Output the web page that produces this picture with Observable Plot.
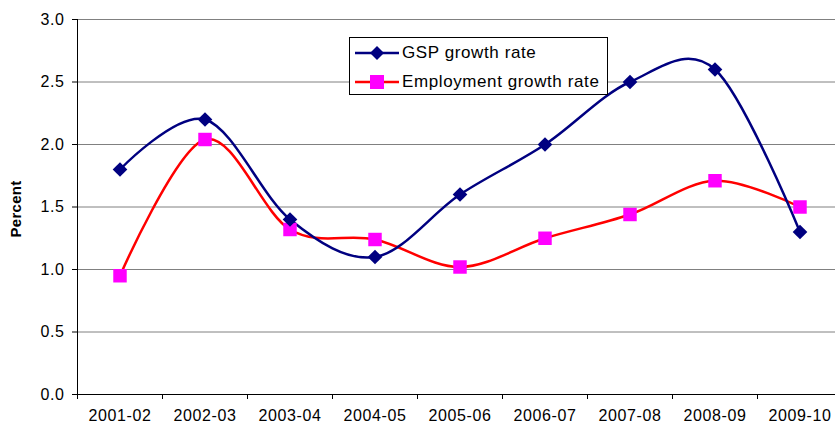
<!DOCTYPE html>
<html>
<head>
<meta charset="utf-8">
<script src="https://cdn.jsdelivr.net/npm/d3@7"></script>
<script src="https://cdn.jsdelivr.net/npm/@observablehq/plot@0.6"></script>
<style>
  html, body { margin: 0; padding: 0; background: #fff; }
  #wrap { position: relative; width: 835px; height: 427px; overflow: hidden; font-family: Arial, "Liberation Sans", sans-serif; }
  #chart { width: 842px; }
  #chart svg { max-width: none !important; display: block; }
  #legend { position: absolute; left: 349px; top: 37px; width: 257px; height: 56px; border: 1px solid #000; background: #fff; }
  .row { position: absolute; left: 0; height: 22px; display: flex; align-items: center; font-size: 17px; letter-spacing: 0.6px; color: #000; }
  .row svg { margin-left: 5px; margin-right: 3px; }
  #ylabel { position: absolute; left: 15px; top: 209px; transform: translate(-50%, -50%) rotate(-90deg); font-weight: bold; font-size: 15px; letter-spacing: 0.3px; white-space: nowrap; }
</style>
</head>
<body>
<div id="wrap">
  <div id="chart"></div>
  <div id="ylabel">Percent</div>
  <div id="legend"></div>
</div>
<script>
const categories = ["2001-02","2002-03","2003-04","2004-05","2005-06","2006-07","2007-08","2008-09","2009-10"];
const gspGrowth = [1.80, 2.20, 1.40, 1.10, 1.60, 2.00, 2.50, 2.60, 1.30];
const employmentGrowth = [0.95, 2.04, 1.32, 1.24, 1.02, 1.25, 1.44, 1.71, 1.50];
const yTicks = [0, 0.5, 1.0, 1.5, 2.0, 2.5, 3.0];
const seriesNames = ["GSP growth rate", "Employment growth rate"];
const navy = "#000080", red = "#FF0000", magenta = "#FF00FF";

const gsp = categories.map((c, i) => ({i, c, v: gspGrowth[i]}));
const emp = categories.map((c, i) => ({i, c, v: employmentGrowth[i]}));
const idx = categories.map((c, i) => i);
const bounds = d3.range(-0.5, categories.length, 1);
const curve = d3.curveCatmullRom.alpha(0);

const chart = Plot.plot({
  width: 842,
  height: 427,
  marginLeft: 77,
  marginRight: 0,
  marginTop: 19,
  marginBottom: 33,
  style: {fontFamily: "Arial, 'Liberation Sans', sans-serif", background: "#fff", letterSpacing: "0.6px", maxWidth: "none"},
  x: {type: "linear", domain: [-0.5, categories.length - 0.5]},
  y: {domain: [0, 3]},
  marks: [
    Plot.gridY({ticks: yTicks.filter(d => d > 0), stroke: "#808080", strokeOpacity: 1, strokeWidth: 1}),
    Plot.ruleY([0], {stroke: "#000", strokeWidth: 1}),
    Plot.ruleX([-0.5], {y1: 0, y2: 3, stroke: "#000", strokeWidth: 1}),
    Plot.axisY({ticks: yTicks, tickFormat: d3.format(".1f"), tickSize: 5, tickPadding: 8, fontSize: 16, label: null, stroke: "#000"}),
    Plot.axisX({ticks: bounds, tickFormat: () => "", tickSize: 5, label: null}),
    Plot.axisX({ticks: idx, tickFormat: i => categories[i], tickSize: 0, tickPadding: 15, fontSize: 16, label: null}),
    Plot.line(emp, {x: "i", y: "v", stroke: red, strokeWidth: 2.5, curve}),
    Plot.line(gsp, {x: "i", y: "v", stroke: navy, strokeWidth: 2.5, curve}),
    Plot.dot(emp, {x: "i", y: "v", symbol: "square", r: 7.6, fill: magenta, stroke: "none"}),
    Plot.dot(gsp, {x: "i", y: "v", symbol: "diamond2", r: 6.6, fill: navy, stroke: "none"})
  ]
});
chart.style.maxWidth = "none";
document.getElementById("chart").appendChild(chart);

const legend = document.getElementById("legend");
const sw = [
  {name: seriesNames[0], color: navy, marker: '<path d="M22,4 L29,11 L22,18 L15,11 Z" fill="' + navy + '"/>', top: 15},
  {name: seriesNames[1], color: red, marker: '<rect x="15" y="4" width="14" height="14" fill="' + magenta + '"/>', top: 44}
];
sw.forEach(s => {
  const row = document.createElement("div");
  row.className = "row";
  row.style.top = (s.top - 11) + "px";
  row.innerHTML = '<svg width="44" height="22" viewBox="0 0 44 22"><line x1="0" y1="11" x2="44" y2="11" stroke="' + s.color + '" stroke-width="2.5"/>' + s.marker + '</svg><span>' + s.name + '</span>';
  legend.appendChild(row);
});
</script>
</body>
</html>
